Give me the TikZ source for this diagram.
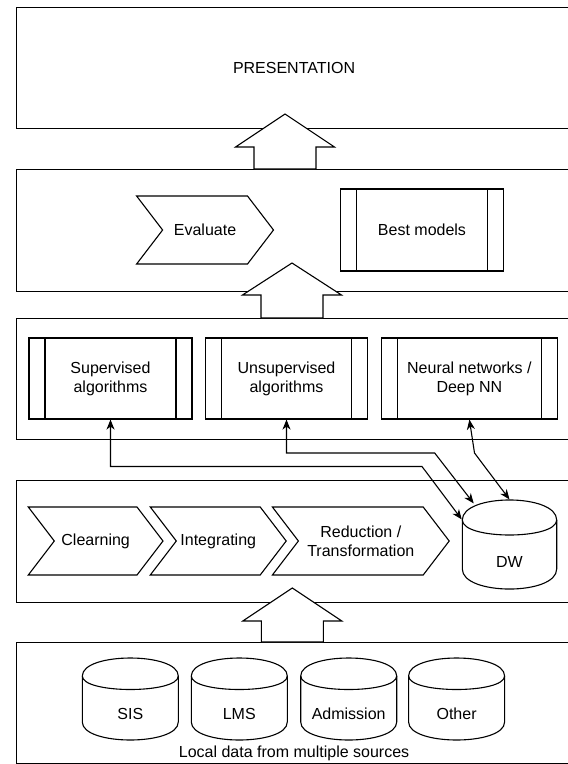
\documentclass[tikz,border=0pt]{standalone}
\usepackage{fontspec}
\setmainfont{Liberation Sans}
\usetikzlibrary{arrows.meta,calc}

\begin{document}
\begin{tikzpicture}[x=1pt,y=-1pt,>={Stealth[length=10pt,width=8pt,inset=3pt]},
    font=\fontsize{16}{19}\selectfont, line width=1.1pt,
    layer/.style={draw,minimum width=556pt,minimum height=121pt,inner sep=0pt,anchor=north west},
    proc/.style={draw,fill=white,minimum height=81pt,inner sep=0pt,align=center,
      path picture={\draw ([xshift=16pt]path picture bounding box.north west) -- ([xshift=16pt]path picture bounding box.south west)
        ([xshift=-16pt]path picture bounding box.north east) -- ([xshift=-16pt]path picture bounding box.south east);}},
    bigarrow/.style={draw,fill=white,line join=miter}]
  \useasboundingbox (0,0) rectangle (568,764);
  \fill[white] (0,0) rectangle (568,764);
  \clip (0,0) rectangle (568,764);

  % Layers
  \node[layer] (pres) at (15.5,7) {PRESENTATION};
  \node[layer,minimum height=122pt] (l2) at (15.5,169) {};
  \node[layer] (l3) at (15.5,318) {};
  \node[layer,minimum height=122pt] (l4) at (15.5,480) {};
  \node[layer] (l5) at (15.5,642) {};
  \node (srctxt) at ($(l5.south)+(0,-11)$) {Local data from multiple sources};

  % Block arrows between layers
  \foreach \cx/\tip/\base/\bot in {285/114/147/169, 292/263/295/318, 292.3/588/621/642}
    \draw[bigarrow] (\cx,\tip) -- (\cx+49.5,\base) -- (\cx+31,\base) -- (\cx+31,\bot)
      -- (\cx-31,\bot) -- (\cx-31,\base) -- (\cx-49.5,\base) -- cycle;

  % Chevrons
  \foreach \a/\b/\y/\nm/\txt in {136.6/273.5/230/eval/Evaluate, 28.3/163/541/clean/Clearning,
      150.3/286.2/541/integ/Integrating, 272.4/449.2/541/reduc/{Reduction /\\Transformation}}{
    \draw (\a,\y-34) -- (\b-26,\y-34) -- (\b,\y) -- (\b-26,\y+34) -- (\a,\y+34) -- (\a+26,\y) -- cycle;
    \node[align=center] (\nm) at ({(\a+\b)/2},\y) {\txt};
  }

  % Models
  \node[proc,minimum width=163pt,minimum height=82pt] (best) at (422,230) {Best models};
  \node[proc,minimum width=163pt] (sup) at (110.5,378.5) {Supervised\\algorithms};
  \node[proc,minimum width=162.3pt] (unsup) at (286.5,378.5) {Unsupervised\\algorithms};
  \node[proc,minimum width=175.3pt] (nn) at (469.4,378.5) {Neural networks /\\Deep NN};

  % Data warehouse
  \node[minimum width=94.4pt,minimum height=89pt,inner sep=0pt] (dw) at (509.5,544.5) {};
  \draw[fill=white] (462.3,520) .. controls (462.3,493.3) and (556.7,493.3) .. (556.7,520) -- (556.7,569)
    .. controls (556.7,595.7) and (462.3,595.7) .. (462.3,569) -- cycle;
  \draw (462.3,520) .. controls (462.3,540) and (556.7,540) .. (556.7,520);
  \node (dwtxt) at (509.5,562) {DW};

  % Sources
  \foreach \x/\nm/\txt in {82.3/sis/SIS, 191.3/lms/LMS, 300.7/adm/Admission, 408.6/oth/Other}{
    \draw[fill=white] (\x,676) .. controls (\x,652) and (\x+96,652) .. (\x+96,676) -- (\x+96,722)
      .. controls (\x+96,746) and (\x,746) .. (\x,722) -- cycle;
    \draw (\x,676) .. controls (\x,694) and (\x+96,694) .. (\x+96,676);
    \node (\nm) at (\x+48,714) {\txt};
  }

  % Links to DW
  \draw[<->] (sup.south) |- (422,466.5) -- ([yshift=-20pt]dw.north west);
  \draw[<->] (unsup.south) |- (434.7,453) -- ([shift={(12,4)}]dw.north west);
  \draw[<->] (nn.south) -- (474.5,453) -- (dw.north);
\end{tikzpicture}
\end{document}
